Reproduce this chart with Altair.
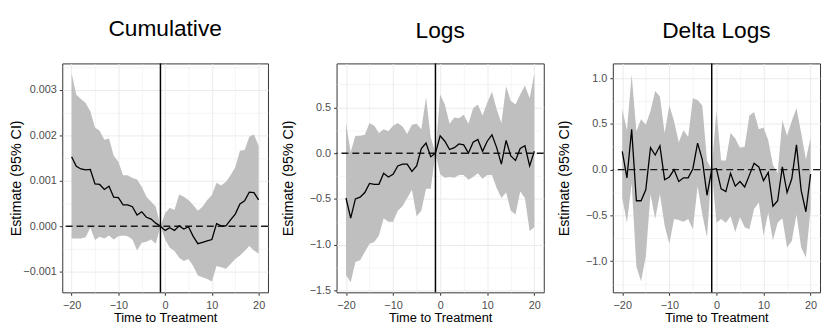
import altair as alt
import pandas as pd

FONT = "Liberation Sans"

time_to_treatment = [-20, -19, -18, -17, -16, -15, -14, -13, -12, -11, -10, -9, -8, -7, -6, -5, -4, -3, -2, -1,
                     0, 1, 2, 3, 4, 5, 6, 7, 8, 9, 10, 11, 12, 13, 14, 15, 16, 17, 18, 19, 20]
x_grid_values = [-20, -15, -10, -5, 0, 5, 10, 15, 20]
x_domain = [-22, 22]
zero_ref = [0]
treatment_ref = [-1]

panel_titles = ["Cumulative", "Logs", "Delta Logs"]
x_title = "Time to Treatment"
y_title = "Estimate (95% CI)"

# Cumulative
cum_est = [0.00153, 0.00132, 0.00126, 0.00124, 0.00125, 0.00093, 0.00092, 0.00081, 0.00088, 0.00064,
           0.00063, 0.00047, 0.00047, 0.00043, 0.00025, 0.00032, 0.00020, 0.00016, 0.00007, 0.0,
           -0.00009, -0.00003, -0.00009, 0.00001, -0.00006, -0.00001, -0.00022, -0.00038, -0.00035, -0.00032,
           -0.00029, 0.00006, 0.00001, 0.00001, 0.00014, 0.00027, 0.00049, 0.00056, 0.00075, 0.00074, 0.00058]
cum_hi = [0.00336, 0.00289, 0.00280, 0.00271, 0.00253, 0.00217, 0.00210, 0.00190, 0.00193, 0.00155,
          0.00142, 0.00112, 0.00112, 0.00106, 0.00103, 0.00087, 0.00065, 0.00054, 0.00043, 0.0,
          0.00029, 0.00041, 0.00036, 0.00070, 0.00065, 0.00058, 0.00047, 0.00034, 0.00043, 0.00058,
          0.00069, 0.00096, 0.00090, 0.00098, 0.00112, 0.00130, 0.00166, 0.00168, 0.00197, 0.00202, 0.00177]
cum_lo = [-0.00027, -0.00027, -0.00027, -0.00024, -0.00003, -0.00030, -0.00023, -0.00027, -0.00020, -0.00029,
          -0.00022, -0.00020, -0.00022, -0.00029, -0.00053, -0.00036, -0.00034, -0.00029, -0.00038, 0.0,
          -0.00029, -0.00047, -0.00054, -0.00069, -0.00076, -0.00072, -0.00087, -0.00108, -0.00112, -0.00116,
          -0.00121, -0.00087, -0.00090, -0.00093, -0.00083, -0.00072, -0.00064, -0.00054, -0.00043, -0.00053, -0.00060]
cum_y_domain = [-0.00145, 0.00358]
cum_y_grid = [-0.001, -0.0005, 0.0, 0.0005, 0.001, 0.0015, 0.002, 0.0025, 0.003, 0.0035]

# Logs
log_est = [-0.49, -0.71, -0.50, -0.48, -0.43, -0.33, -0.34, -0.34, -0.22, -0.26,
           -0.23, -0.14, -0.12, -0.12, -0.20, -0.14, 0.05, 0.11, -0.04, 0.0,
           0.19, 0.13, 0.04, 0.06, 0.10, 0.09, 0.0, 0.12, 0.15, 0.02,
           0.13, 0.20, 0.06, -0.12, 0.14, -0.03, -0.08, 0.05, 0.08, -0.14, 0.02]
log_hi = [0.33, 0.01, 0.19, 0.19, 0.20, 0.33, 0.30, 0.22, 0.26, 0.24,
          0.30, 0.33, 0.29, 0.21, 0.31, 0.32, 0.26, 0.61, 0.17, 0.0,
          0.64, 0.53, 0.32, 0.39, 0.38, 0.42, 0.32, 0.49, 0.53, 0.41,
          0.55, 0.67, 0.48, 0.33, 0.73, 0.57, 0.53, 0.64, 0.74, 0.60, 0.87]
log_lo = [-1.33, -1.41, -1.19, -1.17, -1.08, -0.99, -0.97, -0.90, -0.71, -0.75,
          -0.75, -0.63, -0.58, -0.49, -0.40, -0.69, -0.63, -0.39, -0.39, 0.0,
          -0.23, -0.27, -0.26, -0.27, -0.24, -0.24, -0.29, -0.26, -0.22, -0.28,
          -0.24, -0.24, -0.38, -0.49, -0.43, -0.63, -0.67, -0.42, -0.49, -0.85, -0.81]
log_y_domain = [-1.52, 0.98]
log_y_grid = [-1.5, -1.25, -1.0, -0.75, -0.5, -0.25, 0.0, 0.25, 0.5, 0.75]

# Delta Logs
dlog_est = [0.20, -0.09, 0.44, -0.34, -0.34, -0.22, 0.24, 0.16, 0.26, -0.11,
            -0.08, 0.0, -0.13, -0.09, -0.09, 0.01, 0.29, 0.11, -0.28, 0.0,
            0.01, -0.21, -0.24, -0.04, -0.18, -0.13, -0.19, -0.06, 0.07, 0.03,
            -0.12, -0.03, -0.40, -0.34, 0.03, -0.25, -0.10, 0.27, -0.23, -0.46, -0.05]
dlog_hi = [0.66, 0.43, 1.04, 0.42, 0.55, 0.49, 0.64, 0.86, 0.80, 0.40,
           0.70, 0.53, 0.30, 0.43, 0.36, 0.78, 0.76, 0.70, 0.10, 0.0,
           0.64, 0.10, 0.10, 0.40, 0.34, 0.24, 0.25, 0.59, 0.63, 0.44,
           0.46, 0.32, 0.05, -0.04, 0.54, 0.37, 0.53, 0.67, 0.40, 0.11, 0.35]
dlog_lo = [-0.31, -0.58, -0.15, -1.06, -1.22, -0.95, -0.27, -0.54, -0.27, -0.61,
           -0.81, -0.54, -0.55, -0.57, -0.54, -0.65, -0.18, -0.49, -0.74, 0.0,
           -0.58, -0.54, -0.58, -0.51, -0.68, -0.52, -0.63, -0.65, -0.43, -0.36,
           -0.72, -0.47, -0.77, -0.58, -0.53, -0.85, -0.78, -0.49, -0.85, -0.96, -0.43]
dlog_y_domain = [-1.34, 1.16]
dlog_y_grid = [-1.25, -1.0, -0.75, -0.5, -0.25, 0.0, 0.25, 0.5, 0.75, 1.0]


def panel(title, est, lo, hi, y_domain, y_grid, major_step, fmt, title_pad, width):
    df = pd.DataFrame({"t": time_to_treatment, "est": est, "lo": lo, "hi": hi})
    x_major = "datum.value % 10 === 0"
    y_major = f"abs(datum.value / {major_step} - round(datum.value / {major_step})) < 1e-6"
    x_scale = alt.Scale(domain=x_domain, nice=False, zero=False)
    y_scale = alt.Scale(domain=y_domain, nice=False, zero=False)
    x_axis = alt.Axis(
        values=x_grid_values,
        labelExpr=f"{x_major} ? format(datum.value, 'd') : ''",
        tickOpacity={"condition": {"test": x_major, "value": 1}, "value": 0},
        gridWidth={"condition": {"test": x_major, "value": 1.0}, "value": 0.5},
        labelFlush=False, labelOverlap=False, labelPadding=4, titlePadding=2,
        titleFontSize=13,
    )
    y_axis = alt.Axis(
        values=y_grid,
        labelExpr=f"{y_major} ? format(datum.value, '{fmt}') : ''",
        tickOpacity={"condition": {"test": y_major, "value": 1}, "value": 0},
        gridWidth={"condition": {"test": y_major, "value": 1.0}, "value": 0.5},
        labelOverlap=False, labelPadding=3, titlePadding=title_pad,
        minExtent=39, maxExtent=39, titleFontSize=14.5,
    )

    def X(field):
        return alt.X(field, type="quantitative", scale=x_scale, axis=x_axis, title=x_title)

    def Y(field):
        return alt.Y(field, type="quantitative", scale=y_scale, axis=y_axis, title=y_title)

    band = alt.Chart(df).mark_area(color="#BFBFBF", opacity=1).encode(
        x=X("t"), y=Y("lo"), y2="hi",
    )
    hline = alt.Chart(pd.DataFrame({"v": zero_ref})).mark_rule(
        color="#1a1a1a", strokeDash=[7, 4], strokeWidth=1.5
    ).encode(y=Y("v"))
    vline = alt.Chart(pd.DataFrame({"v": treatment_ref})).mark_rule(
        color="black", strokeWidth=1.5
    ).encode(x=X("v"))
    line = alt.Chart(df).mark_line(color="black", strokeWidth=1.3).encode(
        x=X("t"), y=Y("est"),
    )
    return alt.layer(band, hline, vline, line).properties(
        width=width, height=232,
        title=alt.TitleParams(title, fontSize=23, font=FONT, fontWeight="normal",
                              color="black", anchor="middle", offset=20),
    )


p1 = panel(panel_titles[0], cum_est, cum_lo, cum_hi, cum_y_domain, cum_y_grid, 0.001, ".3f", 0, 208.5)
p2 = panel(panel_titles[1], log_est, log_lo, log_hi, log_y_domain, log_y_grid, 0.5, ".1f", 3, 210)
p3 = panel(panel_titles[2], dlog_est, dlog_lo, dlog_hi, dlog_y_domain, dlog_y_grid, 0.5, ".1f", 3, 210)

chart = alt.hconcat(p1, p2, p3, spacing=10).configure(
    padding={"left": 0, "top": 8, "right": 0, "bottom": 0},
    background="white",
).configure_view(
    stroke="#333333", strokeWidth=1
).configure_axis(
    domain=False, tickColor="#333333", tickSize=3, tickWidth=1,
    labelColor="#4D4D4D", labelFont=FONT, labelFontSize=11,
    titleFont=FONT, titleColor="black", titleFontWeight="normal",
    gridColor="#EBEBEB",
)

chart.save("out.html", embed_options={"renderer": "svg", "actions": False})
